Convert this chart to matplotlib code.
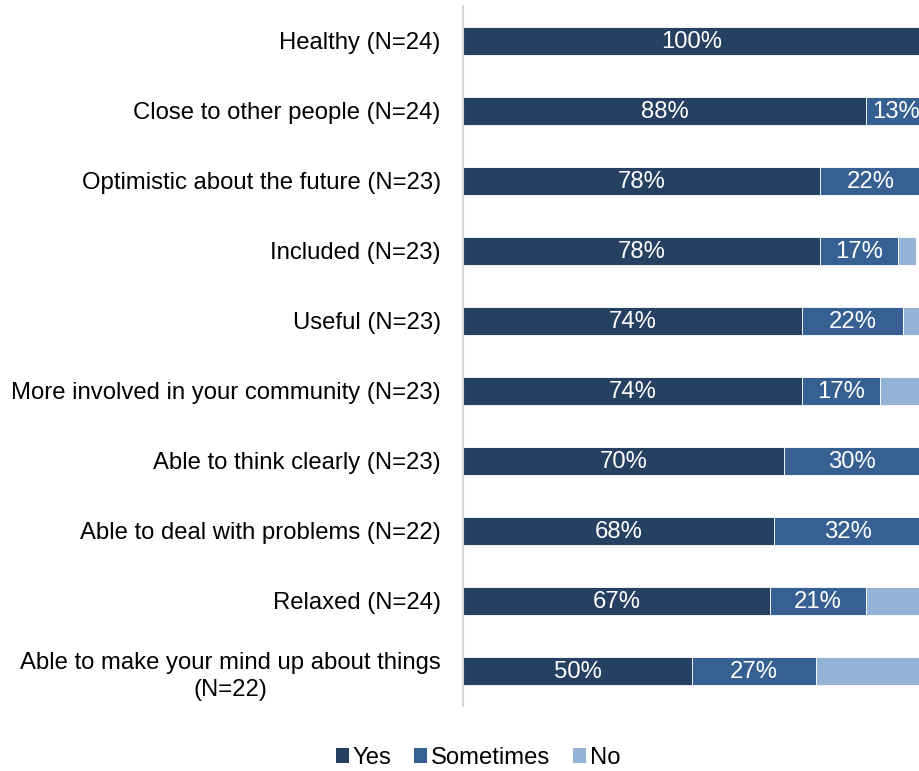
import numpy as np
import matplotlib
matplotlib.use("Agg")
import matplotlib.pyplot as plt
from matplotlib.patches import Patch

plt.rcParams['font.family'] = ['Liberation Sans', 'DejaVu Sans']

# survey items, top to bottom
labels = [
    "Healthy (N=24)",
    "Close to other people (N=24)",
    "Optimistic about the future (N=23)",
    "Included (N=23)",
    "Useful (N=23)",
    "More involved in your community (N=23)",
    "Able to think clearly (N=23)",
    "Able to deal with problems (N=22)",
    "Relaxed (N=24)",
    "Able to make your mind up about things\n(N=22)",
]
yes = [100, 88, 78, 78, 74, 74, 70, 68, 67, 50]
sometimes = [0, 13, 22, 17, 22, 17, 30, 32, 21, 27]
no = [0, 0, 0, 4, 4, 9, 0, 0, 13, 23]

series = ["Yes", "Sometimes", "No"]
colours = ["#264061", "#376092", "#95B3D7"]
fs = 17.2

fig = plt.figure(figsize=(9.19, 7.71), dpi=100)
ax = fig.add_axes([463 / 919, 1 - 706 / 771, 1 - 463 / 919, 700 / 771])

y = np.arange(len(labels))
left = np.zeros(len(labels))
for name, vals, col in zip(series, [yes, sometimes, no], colours):
    vals = np.array(vals, dtype=float)
    ax.barh(y, vals, left=left, height=0.4, color=col,
            edgecolor="white", linewidth=0.6, label=name)
    if name != "No":
        for yi, l, v in zip(y, left, vals):
            if v > 0:
                ax.text(l + v / 2, yi + 0.02, f"{v:.0f}%", ha="center", va="center",
                        color="white", fontsize=fs)
    left += vals

ax.set_xlim(0, 99.56)
ax.set_ylim(len(labels) - 0.5, -0.5)
ax.set_yticks(y)
ax.set_yticklabels(labels, fontsize=fs)
for t in ax.get_yticklabels():
    t.set_multialignment("center")
    t.set_linespacing(1.35)
ax.tick_params(axis="y", length=0, pad=16)
ax.set_xticks([])
for s in ["top", "right", "bottom"]:
    ax.spines[s].set_visible(False)
ax.spines["left"].set_color("#D9D9D9")
ax.spines["left"].set_linewidth(1.5)

handles = [Patch(facecolor=c, label=n) for n, c in zip(series, colours)]
fig.legend(handles=handles, loc="center", bbox_to_anchor=(478 / 919, 1 - 758 / 771),
           ncol=3, frameon=False, fontsize=fs, handlelength=0.55, handleheight=0.55,
           handletextpad=0.15, columnspacing=0.95)

fig.savefig("out.png", dpi=100)
